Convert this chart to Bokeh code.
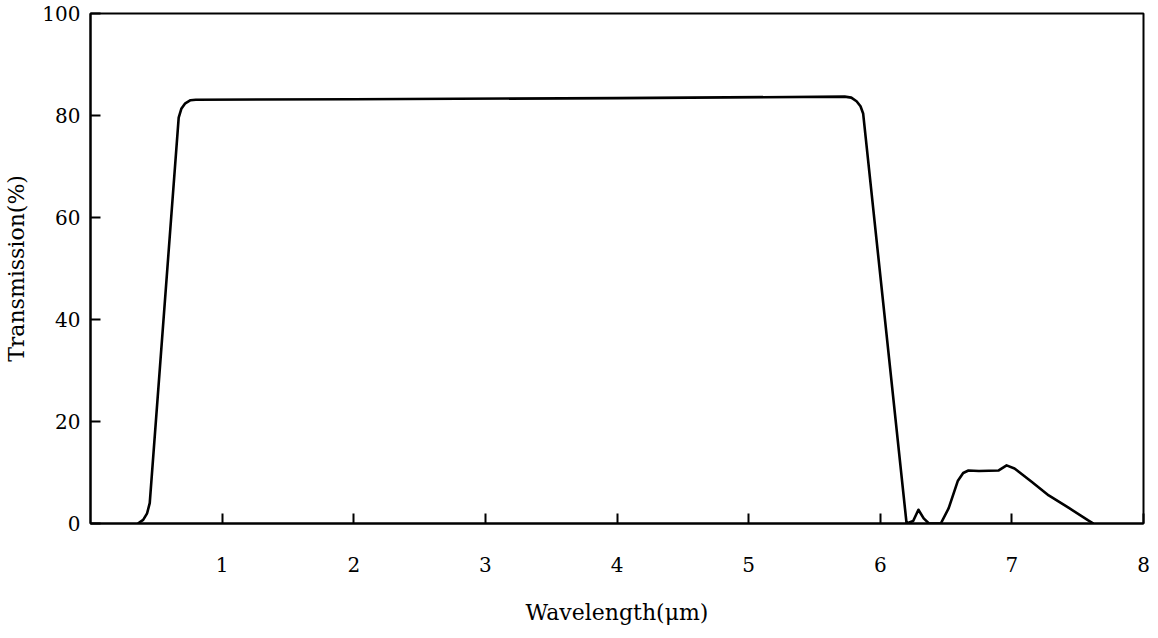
from bokeh.plotting import figure
from bokeh.models import Range1d, FixedTicker
from bokeh.embed import file_html
from bokeh.resources import INLINE

wavelength = [0.36, 0.40, 0.43, 0.45, 0.67, 0.69, 0.72, 0.76, 0.80, 2.0, 4.0,
              5.73, 5.78, 5.82, 5.85, 5.87,
              6.20, 6.25, 6.29, 6.33, 6.37, 6.46, 6.52, 6.59, 6.63, 6.67, 6.75,
              6.90, 6.96, 7.02, 7.15, 7.28, 7.43, 7.58, 7.62]
transmission = [0, 0.7, 2.0, 4.0, 79.6, 81.3, 82.4, 83.0, 83.1, 83.2, 83.4,
                83.7, 83.5, 82.8, 81.8, 80.4,
                0, 0.5, 2.7, 1, 0, 0, 3, 8.4, 9.9, 10.4, 10.3,
                10.4, 11.4, 10.8, 8.2, 5.5, 3.1, 0.6, 0]
x_ticks = [1, 2, 3, 4, 5, 6, 7, 8]
y_ticks = [0, 20, 40, 60, 80, 100]

FONT = "DejaVu Serif"

p = figure(width=1158, height=638, output_backend="svg", toolbar_location=None,
           x_range=Range1d(0, 8), y_range=Range1d(0, 100),
           min_border_left=90, min_border_right=15, min_border_top=13,
           min_border_bottom=115)
p.background_fill_color = "white"
p.border_fill_color = "white"
p.outline_line_color = "black"
p.outline_line_width = 2
p.xgrid.visible = False
p.ygrid.visible = False

p.line(wavelength, transmission, line_color="black", line_width=2.6,
       line_join="round")

xa = p.xaxis[0]
xa.ticker = FixedTicker(ticks=x_ticks)
xa.major_tick_in = 10
xa.major_tick_out = 0
xa.minor_tick_line_color = None
xa.axis_line_width = 2
xa.major_tick_line_width = 2
xa.major_label_standoff = 33
xa.major_label_text_font = FONT
xa.major_label_text_font_size = "20px"
xa.major_label_text_color = "black"
xa.axis_label = "Wavelength(μm)"
xa.axis_label_text_font = FONT
xa.axis_label_text_font_size = "22px"
xa.axis_label_text_font_style = "normal"
xa.axis_label_text_color = "black"
xa.axis_label_standoff = 25

ya = p.yaxis[0]
ya.ticker = FixedTicker(ticks=y_ticks)
ya.major_tick_in = 10
ya.major_tick_out = 0
ya.minor_tick_line_color = None
ya.axis_line_width = 2
ya.major_tick_line_width = 2
ya.major_label_standoff = 10
ya.major_label_text_font = FONT
ya.major_label_text_font_size = "20px"
ya.major_label_text_color = "black"
ya.axis_label = "Transmission(%)"
ya.axis_label_text_font = FONT
ya.axis_label_text_font_size = "22px"
ya.axis_label_text_font_style = "normal"
ya.axis_label_text_color = "black"
ya.axis_label_standoff = 10

open("out.html", "w").write(file_html(p, INLINE))
